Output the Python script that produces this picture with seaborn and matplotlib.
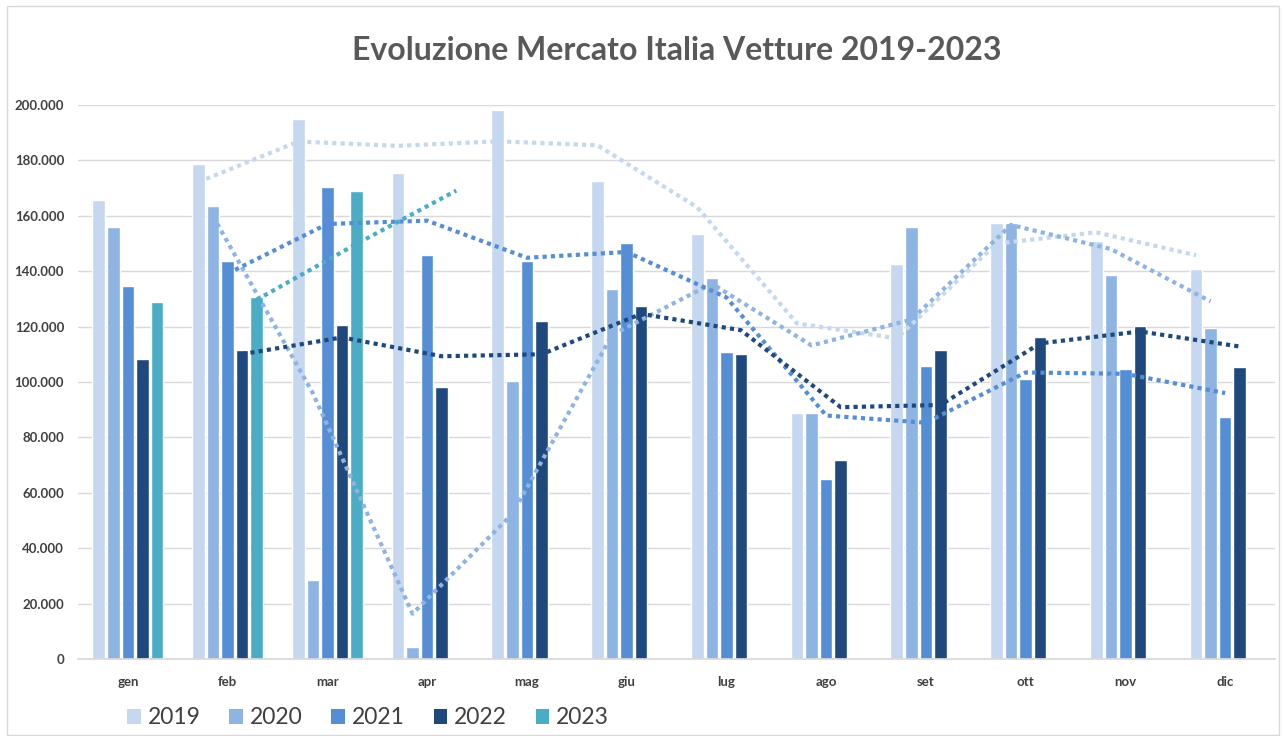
import numpy as np
import pandas as pd
import matplotlib
matplotlib.use("Agg")
import matplotlib.pyplot as plt
from matplotlib.patches import Patch, Rectangle
from matplotlib.ticker import FuncFormatter
import seaborn as sns

months = ['gen', 'feb', 'mar', 'apr', 'mag', 'giu', 'lug', 'ago', 'set', 'ott', 'nov', 'dic']
years = ['2019', '2020', '2021', '2022', '2023']
v2019 = [165700, 178700, 194900, 175600, 198200, 172700, 153400, 88900, 142600, 157300, 150800, 140700]
v2020 = [156100, 163500, 28500, 4200, 100500, 133500, 137500, 88900, 156100, 157300, 138700, 119500]
v2021 = [134700, 143600, 170500, 146000, 143700, 150200, 110900, 64900, 105700, 101200, 104700, 87300]
v2022 = [108400, 111700, 120500, 98100, 121900, 127300, 110100, 71700, 111700, 116200, 120300, 105300]
v2023 = [128800, 130600, 169100, np.nan, np.nan, np.nan, np.nan, np.nan, np.nan, np.nan, np.nan, np.nan]
series = [v2019, v2020, v2021, v2022, v2023]
colors = ['#C5D8F0', '#8EB4E3', '#558ED5', '#1F497D', '#4BACC6']

sns.set_theme(style="white")
plt.rcParams['font.family'] = ['Lato', 'DejaVu Sans']

rows = []
for y, vals in zip(years, series):
    for m, v in zip(months, vals):
        rows.append({'mese': m, 'anno': y, 'valore': v})
df = pd.DataFrame(rows)

fig = plt.figure(figsize=(12.85, 7.36), dpi=100)
ax = fig.add_axes([78 / 1285, 1 - 659 / 736, (1275 - 78) / 1285, (659 - 105) / 736])

group_w = 0.73
sns.barplot(data=df, x='mese', y='valore', hue='anno', order=months, hue_order=years,
            palette=colors, width=group_w, gap=0.14, dodge=True, ax=ax,
            legend=False, saturation=1, errorbar=None)

# moving-average (2 periods) trend lines, as in the original Excel chart
slot = group_w / len(years)
for i, (vals, c) in enumerate(zip(series, colors)):
    s = pd.Series(vals, dtype=float)
    ma = s.rolling(2, min_periods=1).mean()
    ma.iloc[0] = np.nan
    xs = np.arange(len(months)) + (i - (len(years) - 1) / 2) * slot
    ax.plot(xs, ma.values, color=c, lw=3.0, linestyle=(0, (1, 1)),
            dash_capstyle='butt', solid_joinstyle='miter', zorder=5)

ax.set_xlim(-0.5, 11.5)
ax.set_ylim(0, 200000)
ax.set_yticks(np.arange(0, 200001, 20000))
ax.yaxis.set_major_formatter(FuncFormatter(lambda v, p: f"{int(v):,}".replace(",", ".")))
ax.grid(axis='y', color='#D9D9D9', lw=1)
ax.set_axisbelow(True)
for sp in ['top', 'right', 'left']:
    ax.spines[sp].set_visible(False)
ax.spines['bottom'].set_color('#D9D9D9')
ax.tick_params(axis='both', length=0, colors='#404040', labelsize=9.5)
ax.tick_params(axis='y', pad=10)
ax.tick_params(axis='x', pad=12)
for lab in ax.get_xticklabels() + ax.get_yticklabels():
    lab.set_fontweight('bold')
ax.set_xlabel('')
ax.set_ylabel('')

fig.text((78 + 1275) / 2 / 1285, 1 - 50 / 736, 'Evoluzione Mercato Italia Vetture 2019-2023',
         ha='center', va='center', fontsize=23, color='#595959', fontweight='bold')

handles = [Patch(facecolor=c, edgecolor='none', label=y) for y, c in zip(years, colors)]
fig.legend(handles=handles, loc='center left', bbox_to_anchor=(0.083, 1 - 718 / 736),
           ncol=5, frameon=False, fontsize=16.5, handlelength=0.6, handleheight=0.6,
           handletextpad=0.3, columnspacing=1.25, labelcolor='#404040')

fig.patches.append(Rectangle((7 / 1285, 0.002), 0.99, 0.99, transform=fig.transFigure,
                             fill=False, edgecolor='#D9D9D9', lw=1))

fig.savefig('out.png', dpi=100)
